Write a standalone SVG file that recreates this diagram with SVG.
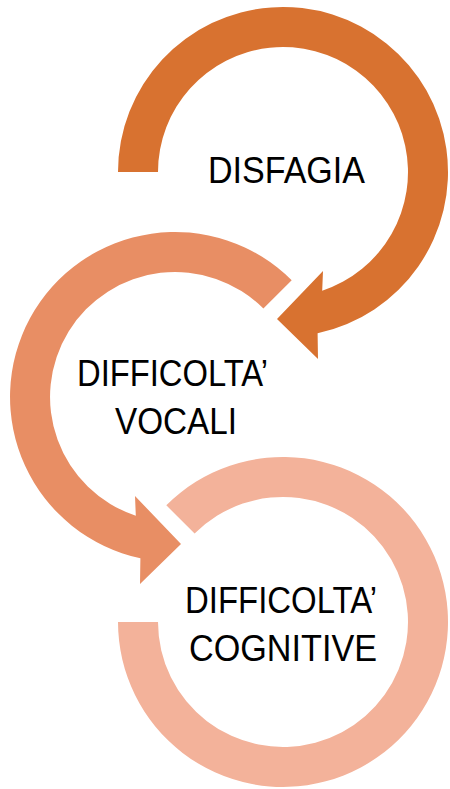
<svg xmlns="http://www.w3.org/2000/svg" width="450" height="789" viewBox="0 0 450 789">
<style>
.t{font-family:"Liberation Sans",Arial,sans-serif;font-size:36px;fill:#000}
.c1{fill:#D87230}
.c2{fill:#E88E64}
.c3{fill:#F3B29A}
</style>
<rect width="450" height="789" fill="#fff"/>
<g id="connectors"></g>
<g id="node3">
<path class="c3" transform="translate(283,622)" d="M -116.7,-116.7 A 165 165 0 1 1 -165,0 L -125,0 A 125 125 0 1 0 -88.4,-88.4 Z"/>
<text class="t" x="185" y="613" textLength="192" lengthAdjust="spacingAndGlyphs">DIFFICOLTA’</text>
<text class="t" x="189" y="661" textLength="188" lengthAdjust="spacingAndGlyphs">COGNITIVE</text>
</g>
<g id="node2">
<path class="c2" transform="translate(175,397) scale(-1,1)" d="M -116.7,-116.7 A 165 165 0 1 1 34.6,161.3 L 35,187 L -6,147 L 40,99 L 39.2,118.7 A 125 125 0 1 0 -88.4,-88.4 Z"/>
<text class="t" x="77" y="386" textLength="191" lengthAdjust="spacingAndGlyphs">DIFFICOLTA’</text>
<text class="t" x="115" y="434" textLength="122" lengthAdjust="spacingAndGlyphs">VOCALI</text>
</g>
<g id="node1">
<path class="c1" transform="translate(283,172)" d="M -165,0 A 165 165 0 1 1 34.6,161.3 L 35,187 L -6,147 L 40,99 L 39.2,118.7 A 125 125 0 1 0 -125,0 Z"/>
<text class="t" x="208" y="183" textLength="157" lengthAdjust="spacingAndGlyphs">DISFAGIA</text>
</g>
</svg>
